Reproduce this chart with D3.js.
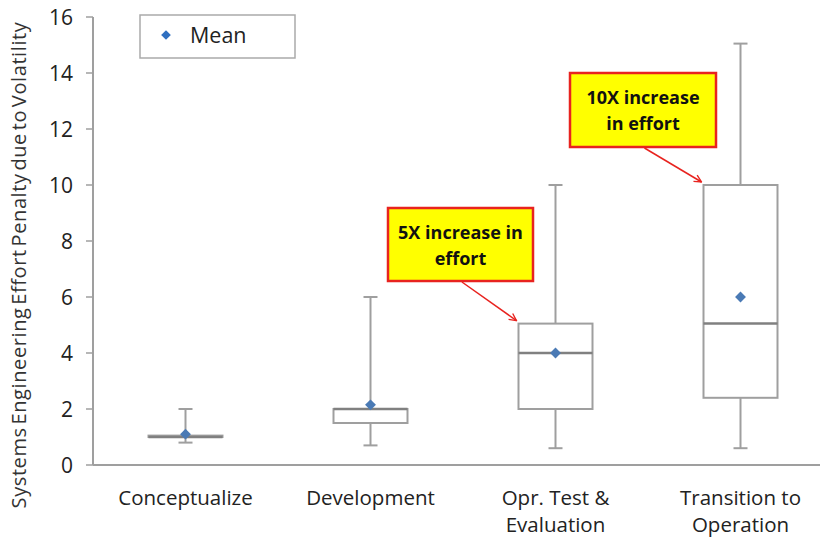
<!DOCTYPE html>
<html>
<head>
<meta charset="utf-8">
<script src="https://cdn.jsdelivr.net/npm/d3@7"></script>
<style>
  body { margin: 0; background: #fff; }
  svg { display: block; font-family: "Open Sans", "Noto Sans", sans-serif; }
</style>
</head>
<body>
<svg id="chart" width="827" height="540"></svg>
<script>
// data
var phases = ["Conceptualize", "Development", "Opr. Test & Evaluation", "Transition to Operation"];
var phaseLines = [["Conceptualize"], ["Development"], ["Opr. Test &", "Evaluation"], ["Transition to", "Operation"]];
var whiskerLow = [0.8, 0.7, 0.6, 0.6];
var q1 = [1.0, 1.5, 2.0, 2.4];
var median = [1.0, 2.0, 4.0, 5.05];
var q3 = [1.05, 2.0, 5.05, 10.0];
var whiskerHigh = [2.0, 6.0, 10.0, 15.05];
var means = [1.1, 2.15, 4.0, 6.0];
var yTicks = [0, 2, 4, 6, 8, 10, 12, 14, 16];

var callouts = [
  { phase: 2, lines: ["5X increase in", "effort"], x: 388, y: 208, w: 145, h: 73 },
  { phase: 3, lines: ["10X increase", "in effort"], x: 570, y: 73, w: 146, h: 74 }
];

var svg = d3.select("#chart");

var margin = { top: 17, left: 93, bottom: 75, right: 7 };
var x = d3.scaleBand().domain(phases).range([93, 833]);
var y = d3.scaleLinear().domain([0, 16]).range([465, 17]);
var boxW = 74;
var capW = 14;
var gray = "#9f9f9f";

// axes
svg.append("line")
  .attr("x1", margin.left).attr("x2", margin.left)
  .attr("y1", y(16)).attr("y2", y(0))
  .style("stroke", gray).style("stroke-width", 2);
svg.append("line")
  .attr("x1", margin.left).attr("x2", 820)
  .attr("y1", y(0)).attr("y2", y(0))
  .style("stroke", gray).style("stroke-width", 2);

var yAxisG = svg.append("g");
yTicks.forEach(function (t) {
  yAxisG.append("line")
    .attr("x1", margin.left - 7).attr("x2", margin.left)
    .attr("y1", y(t)).attr("y2", y(t))
    .style("stroke", gray).style("stroke-width", 1.5);
  yAxisG.append("text")
    .attr("x", 73)
    .attr("y", y(t))
    .attr("dy", "0.36em")
    .style("text-anchor", "end")
    .style("font-size", "21px")
    .style("fill", "#222")
    .text(t);
});

svg.append("text")
  .attr("transform", "translate(26," + 265 + ") rotate(-90)")
  .style("text-anchor", "middle")
  .style("font-size", "20px")
  .style("fill", "#333")
  .style("letter-spacing", "0.6px")
  .style("word-spacing", "-3px")
  .text("Systems Engineering Effort Penalty due to Volatility");

// category labels
phaseLines.forEach(function (lines, i) {
  var cx = x(phases[i]) + x.bandwidth() / 2;
  lines.forEach(function (l, k) {
    svg.append("text")
      .attr("x", cx)
      .attr("y", 505 + k * 27)
      .style("text-anchor", "middle")
      .style("font-size", "20.5px")
      .style("fill", "#222")
      .text(l);
  });
});

// boxes
var boxes = svg.append("g");
for (let i = 0; i < phases.length; i++) {
  var cx = x(phases[i]) + x.bandwidth() / 2;
  // whiskers
  boxes.append("line")
    .attr("x1", cx).attr("x2", cx)
    .attr("y1", y(whiskerHigh[i])).attr("y2", y(q3[i]))
    .style("stroke", gray).style("stroke-width", 2);
  boxes.append("line")
    .attr("x1", cx).attr("x2", cx)
    .attr("y1", y(q1[i])).attr("y2", y(whiskerLow[i]))
    .style("stroke", gray).style("stroke-width", 2);
  [whiskerHigh[i], whiskerLow[i]].forEach(function (v) {
    boxes.append("line")
      .attr("x1", cx - capW / 2).attr("x2", cx + capW / 2)
      .attr("y1", y(v)).attr("y2", y(v))
      .style("stroke", gray).style("stroke-width", 2);
  });
  boxes.append("rect")
    .attr("x", cx - boxW / 2)
    .attr("y", y(q3[i]))
    .attr("width", boxW)
    .attr("height", Math.max(y(q1[i]) - y(q3[i]), 1))
    .style("fill", "#fff")
    .style("stroke", gray)
    .style("stroke-width", 2);
  boxes.append("line")
    .attr("x1", cx - boxW / 2).attr("x2", cx + boxW / 2)
    .attr("y1", y(median[i])).attr("y2", y(median[i]))
    .style("stroke", "#808080").style("stroke-width", 2.5);
  boxes.append("path")
    .attr("d", d3.symbol().type(d3.symbolDiamond2).size(75)())
    .attr("transform", "translate(" + cx + "," + y(means[i]) + ")")
    .style("fill", "#4a7ab5");
}

// legend
var legend = svg.append("g");
legend.append("rect")
  .attr("x", 140).attr("y", 15).attr("width", 155).attr("height", 43)
  .style("fill", "#fff").style("stroke", "#aaa").style("stroke-width", 1.5);
legend.append("path")
  .attr("d", d3.symbol().type(d3.symbolDiamond2).size(60)())
  .attr("transform", "translate(166,35)")
  .style("fill", "#2f6fc0");
legend.append("text")
  .attr("x", 190).attr("y", 35).attr("dy", "0.36em")
  .style("font-size", "21.5px").style("fill", "#222")
  .text("Mean");

// callouts
var defs = svg.append("defs");
defs.append("marker")
  .attr("id", "arrowHead")
  .attr("viewBox", "0 0 10 10")
  .attr("refX", 9).attr("refY", 5)
  .attr("markerWidth", 6).attr("markerHeight", 6)
  .attr("orient", "auto")
  .append("path")
  .attr("d", "M1,1 L9,5 L1,9")
  .style("fill", "none").style("stroke", "#e8231f").style("stroke-width", 1.5);

callouts.forEach(function (c) {
  var g = svg.append("g");
  g.append("rect")
    .attr("x", c.x).attr("y", c.y).attr("width", c.w).attr("height", c.h)
    .style("fill", "#ffff00").style("stroke", "#e8231f").style("stroke-width", 2.5);
  c.lines.forEach(function (l, k) {
    g.append("text")
      .attr("x", c.x + c.w / 2)
      .attr("y", c.y + 25 + k * 26)
      .attr("dy", "0.36em")
      .style("text-anchor", "middle")
      .style("font-size", "18px")
      .style("font-weight", "bold")
      .style("fill", "#111")
      .text(l);
  });
  var tx = x(phases[c.phase]) + x.bandwidth() / 2 - boxW / 2 - 2;
  var ty = y(q3[c.phase]) - 3;
  g.append("line")
    .attr("x1", c.x + c.w * 0.51).attr("y1", c.y + c.h + 1)
    .attr("x2", tx).attr("y2", ty)
    .style("stroke", "#e8231f").style("stroke-width", 1.5)
    .attr("marker-end", "url(#arrowHead)");
});
</script>
</body>
</html>
